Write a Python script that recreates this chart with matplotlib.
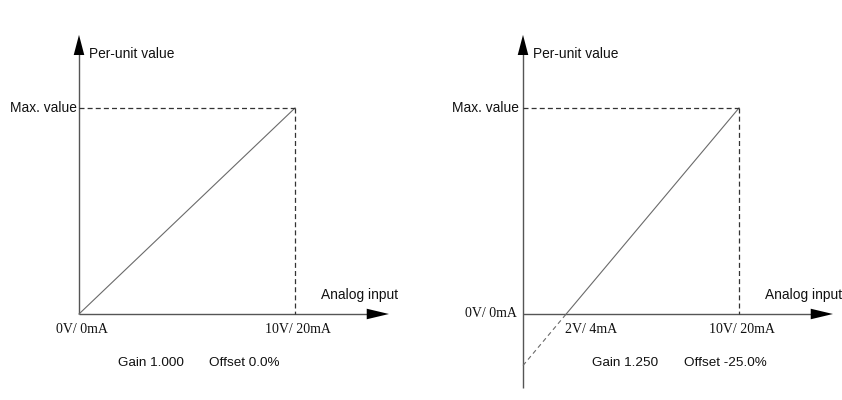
import matplotlib
matplotlib.use("Agg")
import matplotlib.pyplot as plt

# Two analog-input characteristics: (input in V, per-unit output)
panels = ["gain_1000", "gain_1250"]
gains = [1.000, 1.250]
offsets = [0.0, -0.25]
full_scale = 10.0          # 10 V / 20 mA
max_value = 1.0
zero_label = "0V/ 0mA"
full_label = "10V/ 20mA"
knee_label = "2V/ 4mA"
captions_gain = ["Gain 1.000", "Gain 1.250"]
captions_offset = ["Offset 0.0%", "Offset -25.0%"]
y_title = "Per-unit value"
x_title = "Analog input"
max_label = "Max. value"

W, H = 842, 400
fig = plt.figure(figsize=(W / 100, H / 100), dpi=100)
fig.patch.set_facecolor("white")

SX = 21.6   # pixels per volt
SY = 206.0  # pixels per per-unit
XLIM = (-4.0, 15.5)
YLIM = (-0.42, 1.45)
origins = [(79, 314), (523, 314)]

sans = "Liberation Sans"
serif = "Liberation Serif"
axis_col = "#555555"
line_col = "#6a6a6a"
dash_col = "#333333"
text_col = "#111111"


def make_axes(ox, oy):
    left = ox + XLIM[0] * SX
    right = ox + XLIM[1] * SX
    top = oy - YLIM[1] * SY
    bottom = oy - YLIM[0] * SY
    ax = fig.add_axes([left / W, 1 - bottom / H, (right - left) / W, (bottom - top) / H])
    ax.set_xlim(*XLIM)
    ax.set_ylim(*YLIM)
    ax.axis("off")
    return ax


for i, (ox, oy) in enumerate(origins):
    ax = make_axes(ox, oy)
    g, off = gains[i], offsets[i]
    y_at_zero = off
    x_cross = -off / g * full_scale  # input where output reaches zero

    # axes with arrowheads
    y_bottom = 0.0 if off == 0 else -0.36
    ax.plot([0, 0], [y_bottom, 1.30], color=axis_col, lw=1.0, solid_capstyle="butt")
    ax.annotate("", xy=(0, 1.355), xytext=(0, 1.25),
                arrowprops=dict(arrowstyle="-|>,head_length=1.45,head_width=0.38",
                                mutation_scale=10, lw=0, color="black",
                                shrinkA=0, shrinkB=0))
    ax.plot([0, 13.6], [0, 0], color=axis_col, lw=1.0, solid_capstyle="butt")
    ax.annotate("", xy=(14.35, 0), xytext=(13.3, 0),
                arrowprops=dict(arrowstyle="-|>,head_length=1.6,head_width=0.38",
                                mutation_scale=10, lw=0, color="black",
                                shrinkA=0, shrinkB=0))

    # characteristic line
    if off == 0:
        ax.plot([0, full_scale], [0, max_value], color=line_col, lw=0.8)
    else:
        ax.plot([x_cross, full_scale], [0, max_value], color=line_col, lw=0.8)
        ax.plot([0, x_cross], [y_at_zero, 0], color=line_col, lw=0.8,
                dashes=(4, 3))

    # guide lines
    ax.plot([0, full_scale], [max_value, max_value], color=dash_col, lw=0.9,
            dashes=(4, 2.5))
    ax.plot([full_scale, full_scale], [max_value, 0], color=dash_col, lw=0.9,
            dashes=(4, 2.5))

    # labels
    ax.text(0.48, 1.262, y_title, family=sans, fontsize=9.9, color=text_col,
            ha="left", va="center")
    ax.text(-0.1 if i == 0 else -0.2, max_value, max_label, family=sans, fontsize=9.9,
            color=text_col, ha="right", va="center")
    ax.text(13.0, 0.09, x_title, family=sans, fontsize=9.9, color=text_col,
            ha="center", va="center")
    ax.text(full_scale + 0.14, -0.073, full_label, family=serif, fontsize=10,
            color=text_col, ha="center", va="center")
    if off == 0:
        ax.text(0.14, -0.073, zero_label, family=serif, fontsize=10,
                color=text_col, ha="center", va="center")
    else:
        ax.text(-0.28, 0.0, zero_label, family=serif, fontsize=10,
                color=text_col, ha="right", va="center")
        ax.text(x_cross - 0.05, -0.073, knee_label, family=serif, fontsize=10,
                color=text_col, ha="left", va="center")

    gx = 1.8 if i == 0 else 3.2
    ox_text = 6.02 if i == 0 else 7.44
    ax.text(gx, -0.238, captions_gain[i], family=sans, fontsize=9.7,
            color=text_col, ha="left", va="center")
    ax.text(ox_text, -0.238, captions_offset[i], family=sans, fontsize=9.7,
            color=text_col, ha="left", va="center")

fig.savefig("out.png", dpi=100, facecolor="white")
